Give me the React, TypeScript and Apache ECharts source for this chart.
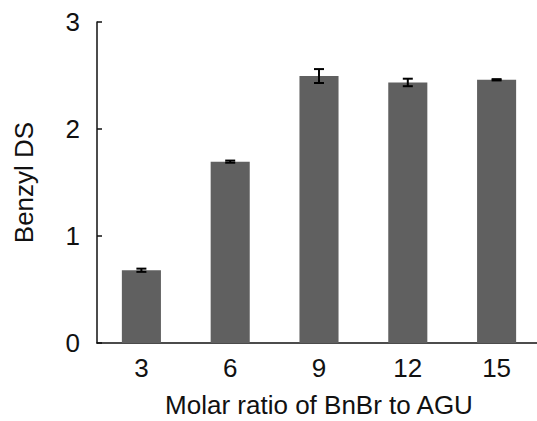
import React, { useEffect, useRef } from "react";
import * as echarts from "echarts";

const categories = ["3", "6", "9", "12", "15"];
const dsValues = [0.68, 1.695, 2.495, 2.435, 2.46];
const dsErrors = [0.015, 0.01, 0.065, 0.035, 0.006];
const yTicks = [0, 1, 2, 3];

const FONT = "'Liberation Sans', Arial, sans-serif";

export default function App() {
  const ref = useRef<HTMLDivElement>(null);
  useEffect(() => {
    if (!ref.current) return;
    const chart = echarts.init(ref.current, null, { renderer: "svg" });
    const errData = categories.map((c, i) => [i, dsValues[i] - dsErrors[i], dsValues[i] + dsErrors[i]]);
    chart.setOption({
      animation: false,
      backgroundColor: "#ffffff",
      grid: { left: 97, right: -4, top: 22, bottom: 78, containLabel: false, outerBoundsMode: "none" },
      xAxis: {
        type: "category",
        data: categories,
        name: "Molar ratio of BnBr to AGU",
        nameLocation: "middle",
        nameGap: 49,
        nameTextStyle: { fontFamily: FONT, fontSize: 26, color: "#111" },
        axisLine: { lineStyle: { color: "#111", width: 1.5 } },
        axisTick: { show: false },
        axisLabel: { fontFamily: FONT, fontSize: 26, color: "#111", margin: 12 },
      },
      yAxis: {
        type: "value",
        min: yTicks[0],
        max: yTicks[yTicks.length - 1],
        interval: 1,
        name: "Benzyl DS",
        nameLocation: "middle",
        nameGap: 60,
        nameTextStyle: { fontFamily: FONT, fontSize: 26, color: "#111" },
        axisLine: { show: true, lineStyle: { color: "#111", width: 1.5 } },
        axisTick: { show: true, inside: true, length: 5, lineStyle: { color: "#111", width: 1.5 } },
        axisLabel: { fontFamily: FONT, fontSize: 26, color: "#111", margin: 17 },
        splitLine: { show: false },
      },
      series: [
        {
          type: "bar",
          data: dsValues,
          barWidth: "44%",
          itemStyle: { color: "#606060" },
        },
        {
          type: "custom",
          data: errData,
          z: 10,
          renderItem: (params: any, api: any) => {
            const x = api.value(0);
            const lo = api.coord([x, api.value(1)]);
            const hi = api.coord([x, api.value(2)]);
            const hw = 5;
            const style = { stroke: "#000", lineWidth: 2 };
            return {
              type: "group",
              children: [
                { type: "line", shape: { x1: lo[0], y1: lo[1], x2: hi[0], y2: hi[1] }, style },
                { type: "line", shape: { x1: lo[0] - hw, y1: lo[1], x2: lo[0] + hw, y2: lo[1] }, style },
                { type: "line", shape: { x1: hi[0] - hw, y1: hi[1], x2: hi[0] + hw, y2: hi[1] }, style },
              ],
            };
          },
        },
      ],
    });
    return () => chart.dispose();
  }, []);
  return <div ref={ref} style={{ width: 537, height: 421, position: "absolute", left: 0, top: 0 }} />;
}
